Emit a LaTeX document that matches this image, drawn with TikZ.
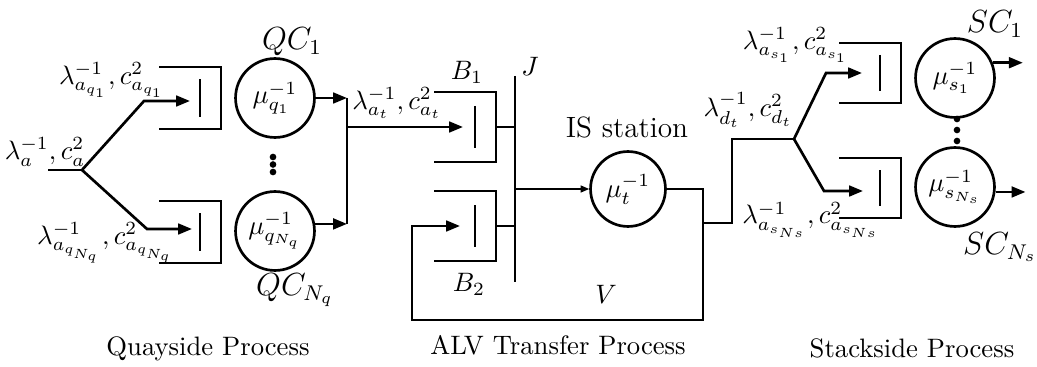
\documentclass[tikz,border=0pt]{standalone}
\usepackage{amsmath,amssymb}
\usepackage{tikz}
\usetikzlibrary{arrows.meta,calc}

\begin{document}
\begin{tikzpicture}[x=0.375pt, y=-0.375pt,
        ln/.style={line width=1pt},
        arr/.style={line width=1pt, -{Triangle[length=5.2pt,width=4pt]}},
        thinarr/.style={line width=0.5pt, -{Triangle[length=3.2pt,width=2.6pt]}},
        srv/.style={circle, draw, line width=1pt, minimum size=29.6pt, inner sep=0pt},
        lbl/.style={inner sep=0.5pt},
        tag/.style={inner sep=0.5pt, font=\large}]
        \useasboundingbox (0,0) rectangle (1037,367);

        % Queues (right edge / centre / half height)
        \foreach \r/\c/\h in {221/98/31, 221/232/31, 496/127/35, 496/226/35, 901/73/30, 901/188/30} {
            \draw[ln] (\r-62,\c-\h) -- (\r,\c-\h) -- (\r,\c+\h) -- (\r-62,\c+\h);
            \draw[ln] (\r-21,\c-0.6*\h) -- (\r-21,\c+0.6*\h);
        }

        % Servers
        \node[srv] (qc1) at (275,98) {$\mu_{q_1}^{-1}$};
        \node[srv] (qcn) at (275,231) {$\mu_{q_{N_q}}^{-1}$};
        \node[srv, minimum size=28.1pt] (ist) at (628,189) {$\mu_t^{-1}$};
        \node[srv] (sc1) at (955,78) {$\mu_{s_1}^{-1}$};
        \node[srv] (scn) at (955,187) {$\mu_{s_{N_s}}^{-1}$};

        % Dots
        \fill (273,157) circle (1.25pt);
        \fill (273,164.5) circle (1.25pt);
        \fill (273,172) circle (1.25pt);
        \fill (957,119) circle (1.25pt);
        \fill (957,130) circle (1.25pt);
        \fill (957,141) circle (1.25pt);

        % Junctions
        \coordinate (ina) at (48,170);
        \coordinate (sp1) at (82,170);
        \coordinate (qin1) at (190,101);
        \coordinate (qin2) at (192,229);
        \coordinate (mq) at (347,127);
        \coordinate (bin1) at (463,127);
        \coordinate (bin2) at (460,226);
        \coordinate (bout1) at (496,127);
        \coordinate (bout2) at (496,226);
        \coordinate (jt) at (515,76);
        \coordinate (jb) at (515,282);
        \coordinate (lp) at (703,223);
        \coordinate (sp3) at (794,139);
        \coordinate (sin1) at (862,73);
        \coordinate (sin2) at (863,191);

        % Quayside
        \draw[ln] (ina) -- (sp1);
        \draw[arr] (sp1) -- (144,101) -- (qin1);
        \draw[arr] (sp1) -- (147,229) -- (qin2);
        \draw[arr] (qc1.east) -- (qc1.east -| mq);
        \draw[arr] (qcn.10) -- (qcn.10 -| mq);
        \draw[ln] (qc1.east -| mq) -- (qcn.10 -| mq);

        % ALV transfer
        \draw[arr] (mq) -- (bin1);
        \draw[ln] (jt) -- (jb);
        \draw[ln] (bout1) -- (bout1 -| jt);
        \draw[ln] (bout2) -- (bout2 -| jt);
        \draw[thinarr] (jt |- ist) -- (ist.west);
        \draw[ln] (ist.east) -| (lp);
        \draw[arr] (lp) |- (412,320) |- (bin2);

        % Stackside
        \draw[ln] (lp) -- ++(29,0) |- (sp3);
        \draw[arr] (sp3) -- (826,73) -- (sin1);
        \draw[arr] (sp3) -- (824,191) -- (sin2);
        \draw[arr] (sc1.22) -- ++(30,0);
        \draw[arr] (scn.-7) -- ++(30,0);

        % Labels
        \node[lbl] (lin) at (45,152) {$\lambda_a^{-1}, c_a^2$};
        \node[lbl] (lq1) at (112,80) {$\lambda_{a_{q_1}}^{-1}, c_{a_{q_1}}^2$};
        \node[lbl] (lqn) at (106,243) {$\lambda_{a_{q_{N_q}}}^{-1}, c_{a_{q_{N_q}}}^2$};
        \node[tag] (tqc1) at (292,42) {$QC_1$};
        \node[tag] (tqcn) at (295,290) {$QC_{N_q}$};
        \node[lbl] (lat) at (397,103) {$\lambda_{a_t}^{-1}, c_{a_t}^2$};
        \node[lbl] (tb1) at (467,72) {$B_1$};
        \node[lbl] (tb2) at (469,284) {$B_2$};
        \node[lbl] (tj) at (530,66) {$J$};
        \node[lbl] (tv) at (606,294) {$V$};
        \node[lbl, font=\fontsize{11}{13}\selectfont] (tis) at (627,127) {IS station};
        \node[lbl] (ldt) at (748,110) {$\lambda_{d_t}^{-1}, c_{d_t}^2$};
        \node[lbl] (ls1) at (796,45) {$\lambda_{a_{s_1}}^{-1}, c_{a_{s_1}}^2$};
        \node[lbl] (lsn) at (811,220) {$\lambda_{a_{s_{Ns}}}^{-1}, c_{a_{s_{Ns}}}^2$};
        \node[tag] (tsc1) at (995,24) {$SC_1$};
        \node[tag] (tscn) at (1000,247) {$SC_{N_s}$};

        % Process names
        \node[anchor=base] (cq) at (208,355) {Quayside Process};
        \node[anchor=base] (ca) at (558,354) {ALV Transfer Process};
        \node[anchor=base] (cs) at (912,357) {Stackside Process};
\end{tikzpicture}
\end{document}
